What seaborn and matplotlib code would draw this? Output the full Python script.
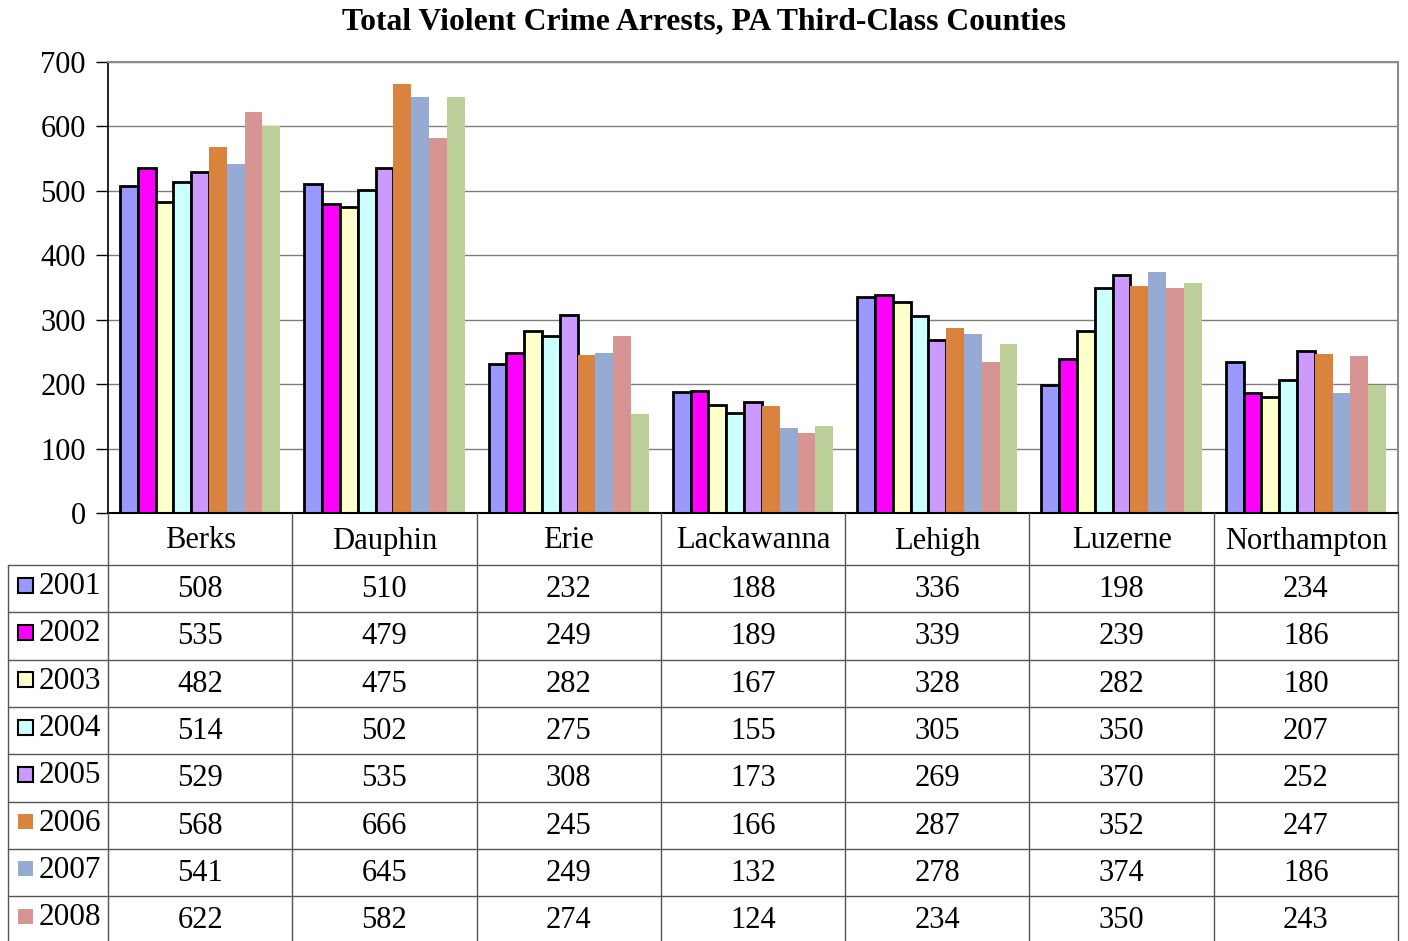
import matplotlib
matplotlib.use("Agg")
import matplotlib.pyplot as plt
from matplotlib.patches import Rectangle
import seaborn as sns
import pandas as pd

counties = ["Berks", "Dauphin", "Erie", "Lackawanna", "Lehigh", "Luzerne", "Northampton"]
years = ["2001", "2002", "2003", "2004", "2005", "2006", "2007", "2008", "2009"]
y2001 = [508, 510, 232, 188, 336, 198, 234]
y2002 = [535, 479, 249, 189, 339, 239, 186]
y2003 = [482, 475, 282, 167, 328, 282, 180]
y2004 = [514, 502, 275, 155, 305, 350, 207]
y2005 = [529, 535, 308, 173, 269, 370, 252]
y2006 = [568, 666, 245, 166, 287, 352, 247]
y2007 = [541, 645, 249, 132, 278, 374, 186]
y2008 = [622, 582, 274, 124, 234, 350, 243]
y2009 = [600, 646, 153, 135, 263, 357, 198]  # row cut off in the table
colors = ["#9999FF", "#FF00FF", "#FFFFCC", "#CCFFFF", "#CC99FF",
          "#DA833E", "#95ABD3", "#D69492", "#BCCF98"]

series = [y2001, y2002, y2003, y2004, y2005, y2006, y2007, y2008, y2009]
df = pd.DataFrame([{"county": c, "year": yr, "arrests": v}
                   for yr, vals in zip(years, series) for c, v in zip(counties, vals)])

sns.set_style("white")
plt.rcParams["font.family"] = ["Liberation Serif", "DejaVu Serif"]
plt.rcParams["text.color"] = "black"
plt.rcParams["ytick.color"] = "black"
plt.rcParams["ytick.labelcolor"] = "black"

W, H = 1408, 941
fig = plt.figure(figsize=(W / 100, H / 100), dpi=100)
left, right, top, bottom = 108, 1398, 62, 513
ax = fig.add_axes([left / W, 1 - bottom / H, (right - left) / W, (bottom - top) / H])

sns.barplot(data=df, x="county", y="arrests", hue="year", palette=colors,
            saturation=1, width=0.87, ax=ax, legend=False)
for i, cont in enumerate(ax.containers):
    for bar in cont:
        if i < 5:
            bar.set_edgecolor("black")
            bar.set_linewidth(2.0)
        else:
            bar.set_edgecolor("none")

ax.set_ylim(0, 700)
ax.set_yticks(range(0, 701, 100))
ax.set_xlim(-0.5, len(counties) - 0.5)
ax.set_xticks([])
ax.set_xlabel("")
ax.set_ylabel("")
ax.yaxis.grid(True, color="#7f7f7f", linewidth=1)
ax.set_axisbelow(True)
ax.tick_params(axis="y", labelsize=22, length=9, width=1, direction="out", left=True,
               pad=7, colors="black")
for s in ["top", "right"]:
    ax.spines[s].set_color("#8c8c8c")
    ax.spines[s].set_linewidth(1.5)
ax.spines["left"].set_color("black")
ax.spines["bottom"].set_color("black")
ax.spines["left"].set_linewidth(1.2)
ax.spines["bottom"].set_linewidth(1.5)

fig.text(0.5, 1 - 22 / H, "Total Violent Crime Arrests, PA Third-Class Counties",
         ha="center", va="center", fontsize=22.8, fontweight="bold", color="black")

# data table below the chart
ov = fig.add_axes([0, 0, 1, 1])
ov.set_xlim(0, W)
ov.set_ylim(H, 0)
ov.axis("off")
ov.patch.set_alpha(0)

col_w = (right - left) / len(counties)
head_bot = 565
row_h = 47.3
n_rows = len(years)
tab_bot = head_bot + row_h * n_rows
lc = "#555555"
for j in range(len(counties) + 1):
    x = left + j * col_w
    ov.plot([x, x], [bottom, tab_bot], color=lc, lw=1)
ov.plot([8, 8], [head_bot, tab_bot], color=lc, lw=1)
for r in range(n_rows + 1):
    y = head_bot + r * row_h
    ov.plot([8, right], [y, y], color=lc, lw=1)

for j, c in enumerate(counties):
    ov.text(left + (j + 0.5) * col_w, (bottom + head_bot) / 2 + 2, c,
            ha="center", va="center", fontsize=22, color="black")

# the last row (2009) falls below the visible picture
for r, (yr, vals, col) in enumerate(zip(years[:8], series[:8], colors[:8])):
    yc = head_bot + (r + 0.5) * row_h
    edge = "black" if r < 5 else "none"
    ov.add_patch(Rectangle((18, yc - 11), 15, 15, facecolor=col, edgecolor=edge, lw=1.5))
    ov.text(39, yc - 2, yr, ha="left", va="center", fontsize=22.5, color="black")
    for j, v in enumerate(vals):
        ov.text(left + (j + 0.5) * col_w, yc + 1, str(v), ha="center", va="center",
                fontsize=22, color="black")

fig.savefig("out.png", dpi=100)
